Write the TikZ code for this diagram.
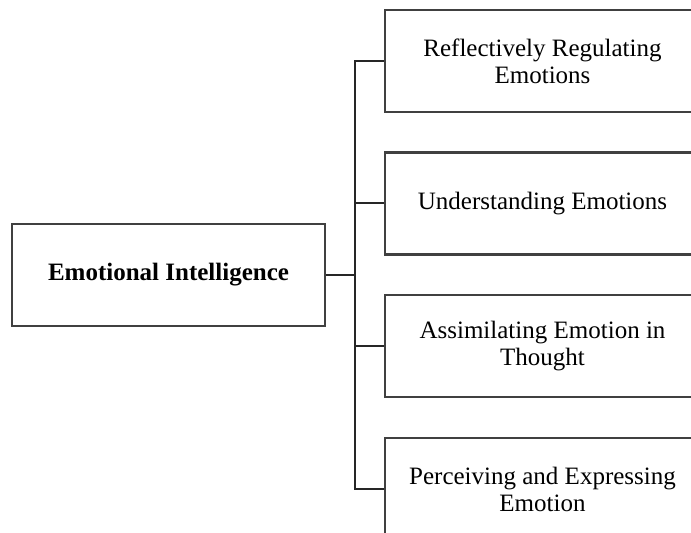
\documentclass[tikz,border=0pt]{standalone}
\usepackage{fontspec}
\setmainfont{Liberation Serif}
\begin{document}
\begin{tikzpicture}[x=0.5pt,y=-0.5pt,line width=1pt,draw=black!85,font=\fontsize{12.5}{13.5}\selectfont,
	box/.style={draw=black!75,line width=1.1pt,minimum width=157.5pt,minimum height=51pt,align=center,inner sep=0pt}]
	\useasboundingbox (0,0) rectangle (691,533);
	\clip (0,0) rectangle (691,533);
	\node[box,minimum width=156.5pt,font=\fontsize{12.5}{13.5}\selectfont\bfseries] (ei) at (168.5,275) {Emotional Intelligence};
	\node[box] (reg) at (542.5,61) {Reflectively Regulating\\Emotions};
	\node[box] (und) at (542.5,203.5) {Understanding Emotions};
	\node[box] (ass) at (542.5,346) {Assimilating Emotion in\\Thought};
	\node[box] (per) at (542.5,489) {Perceiving and Expressing\\Emotion};
	\coordinate (j) at (355,275);
	\draw (ei.east) -- (j);
	\draw (reg.west) -| (j) |- (per.west);
	\draw (j |- und.west) -- (und.west);
	\draw (j |- ass.west) -- (ass.west);
\end{tikzpicture}
\end{document}
